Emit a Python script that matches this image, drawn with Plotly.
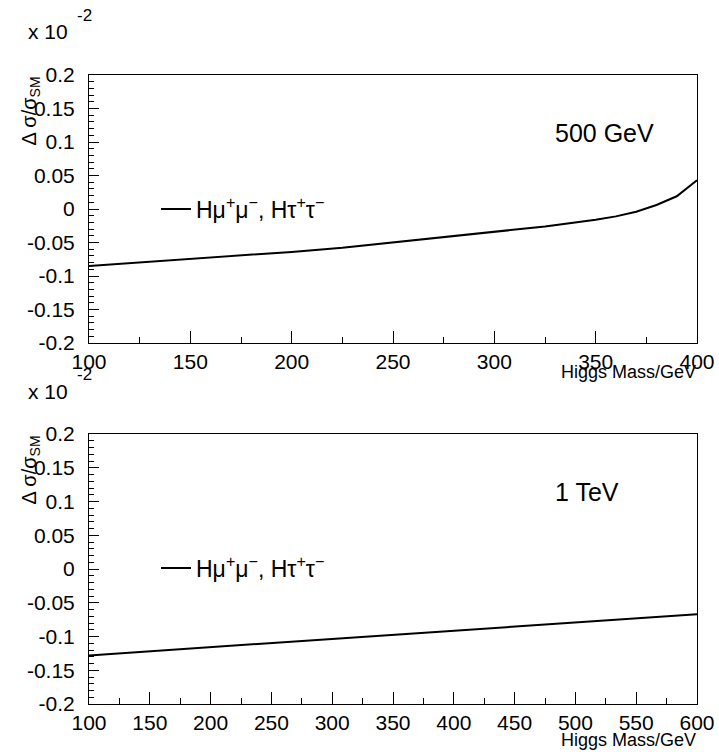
import plotly.graph_objects as go

# Top panel (500 GeV): Higgs mass vs relative correction (units of 1e-2)
mass_500 = [100, 125, 150, 175, 200, 225, 250, 275, 300, 325, 350, 360, 370, 380, 390, 400]
dsig_500 = [-0.085, -0.080, -0.075, -0.070, -0.064, -0.058, -0.050, -0.043, -0.035,
            -0.026, -0.016, -0.011, -0.004, 0.006, 0.019, 0.043]

# Bottom panel (1 TeV)
mass_1000 = [100, 150, 200, 250, 300, 350, 400, 450, 500, 550, 600]
dsig_1000 = [-0.128, -0.122, -0.116, -0.110, -0.104, -0.098, -0.091, -0.085, -0.079, -0.073, -0.067]

series_name = "Hμ<sup>+</sup>μ<sup>−</sup>, Hτ<sup>+</sup>τ<sup>−</sup>"
panel_labels = ["500 GeV", "1 TeV"]
x_title = "Higgs Mass/GeV"
y_title = "Δ σ/σ<sub>SM</sub>"

FONT = "Liberation Sans, Arial, sans-serif"
W, H = 719, 752

def px(x):
    return x / W

def py(y):
    return 1 - y / H

fig = go.Figure()
fig.add_trace(go.Scatter(x=mass_500, y=dsig_500, mode="lines", name=series_name,
                         line=dict(color="black", width=2), xaxis="x", yaxis="y",
                         legend="legend"))
fig.add_trace(go.Scatter(x=mass_1000, y=dsig_1000, mode="lines", name=series_name,
                         line=dict(color="black", width=2), xaxis="x2", yaxis="y2",
                         legend="legend2"))

xl, xr = 89, 697
top = (75, 343)
bot = (434, 704)

def xaxis(rng, anchor):
    return dict(domain=[px(xl), px(xr)], range=rng, anchor=anchor, automargin=False,
                showline=True, mirror=True, linecolor="black", linewidth=1,
                ticks="inside", ticklen=12, tickcolor="black", tickwidth=1,
                dtick=50, tick0=100, showgrid=False, zeroline=False,
                minor=dict(ticks="inside", ticklen=6, dtick=25, tickcolor="black", showgrid=False),
                tickfont=dict(family=FONT, size=21, color="black"))

def yaxis(dom, anchor):
    return dict(domain=[py(dom[1]), py(dom[0])], range=[-0.2, 0.2], anchor=anchor,
                automargin=False,
                showline=True, mirror=True, linecolor="black", linewidth=1,
                ticks="inside", ticklen=10, tickcolor="black", tickwidth=1,
                tickvals=[-0.2, -0.15, -0.1, -0.05, 0, 0.05, 0.1, 0.15, 0.2],
                ticktext=["-0.2", "-0.15", "-0.1", "-0.05", "0", "0.05", "0.1", "0.15", "0.2"],
                showgrid=False, zeroline=False, ticklabelstandoff=9,
                minor=dict(ticks="inside", ticklen=5, dtick=0.01, tickcolor="black", showgrid=False),
                tickfont=dict(family=FONT, size=21, color="black"))

ann = []
for (t, b), label, title_off in zip([top, bot], panel_labels, [17, 24]):
    ann.append(dict(text=label, x=px(553), y=py(t + 58), xref="paper", yref="paper",
                    xanchor="left", yanchor="middle", showarrow=False,
                    font=dict(family=FONT, size=25, color="black")))
    ann.append(dict(text=x_title, x=px(xr + 1), y=py(b + title_off), xref="paper", yref="paper",
                    xanchor="right", yanchor="top", showarrow=False,
                    font=dict(family=FONT, size=18, color="black")))
    ann.append(dict(text=y_title, x=px(30), y=py(t), xref="paper", yref="paper",
                    xanchor="center", yanchor="top", textangle=-90, showarrow=False,
                    font=dict(family=FONT, size=20, color="black")))
    ann.append(dict(text="x 10", x=px(26), y=py(t - 43), xref="paper", yref="paper",
                    xanchor="left", yanchor="middle", showarrow=False,
                    font=dict(family=FONT, size=21, color="black")))
    ann.append(dict(text="-2", x=px(75), y=py(t - 60), xref="paper", yref="paper",
                    xanchor="left", yanchor="middle", showarrow=False,
                    font=dict(family=FONT, size=17, color="black")))

legend_common = dict(xref="paper", yref="paper", xanchor="left", yanchor="middle",
                     bgcolor="rgba(0,0,0,0)", borderwidth=0,
                     font=dict(family=FONT, size=23, color="black"))

fig.update_layout(
    width=W, height=H, margin=dict(l=0, r=0, t=0, b=0),
    paper_bgcolor="white", plot_bgcolor="white",
    xaxis=xaxis([100, 400], "y"), yaxis=yaxis(top, "x"),
    xaxis2=xaxis([100, 600], "y2"), yaxis2=yaxis(bot, "x2"),
    showlegend=True,
    legend=dict(x=px(156), y=py(209), **legend_common),
    legend2=dict(x=px(156), y=py(568), **legend_common),
    annotations=ann,
)

fig.write_html("out.html", config={"displayModeBar": False},
               post_script="document.body.style.margin='0';document.body.style.overflow='hidden';")
